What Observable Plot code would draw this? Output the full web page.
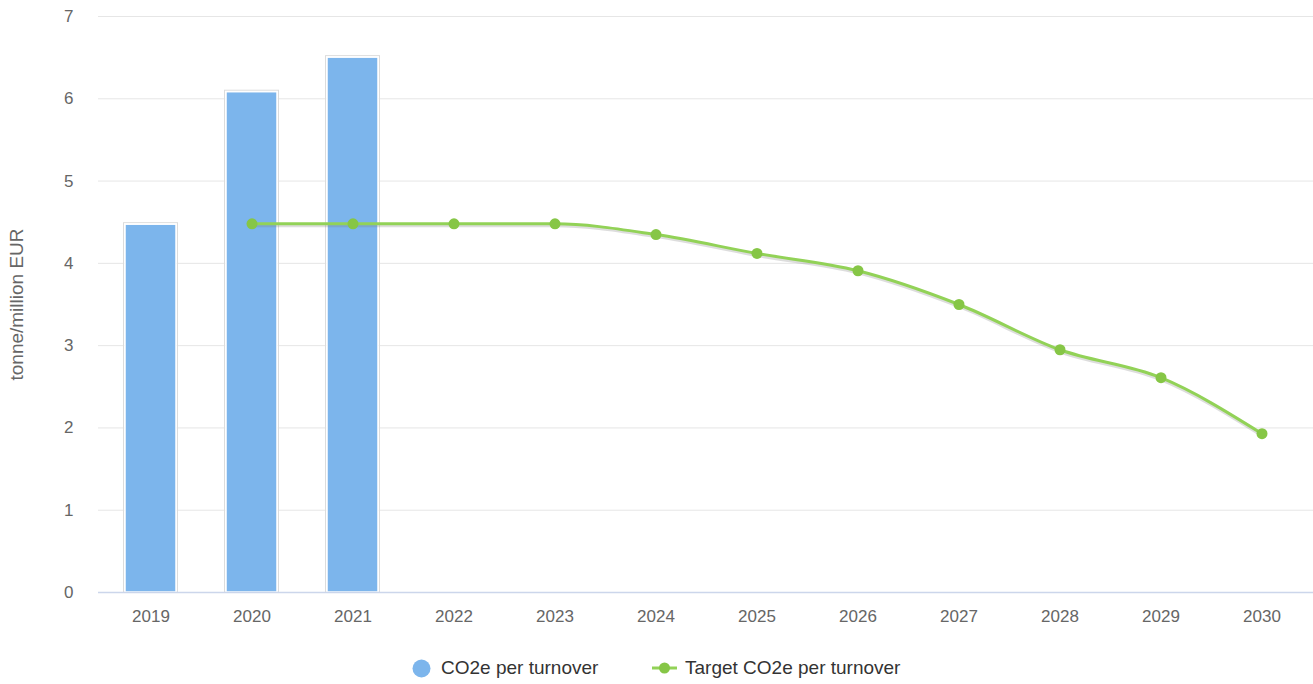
<!DOCTYPE html>
<html>
<head>
<meta charset="utf-8">
<script src="https://cdn.jsdelivr.net/npm/d3@7"></script>
<script src="https://cdn.jsdelivr.net/npm/@observablehq/plot@0.6"></script>
<style>
  body { margin: 0; background: #fff; font-family: "Liberation Sans", Arial, sans-serif; }
  #chart svg { display: block; }
  #chart svg g[aria-label="x-axis tick label"] text,
  #chart svg g[aria-label="y-axis tick label"] text { font-size: 17px; fill: #666; }
  #chart svg g[aria-label="y-axis label"] text { font-size: 19px; fill: #666; }
  .legend { position: relative; height: 44px; margin-top: 6px; font-size: 19px; color: #333; }
  .item { position: absolute; top: 0; height: 44px; display: flex; align-items: center; }
</style>
</head>
<body>
<div id="chart"></div>
<div class="legend">
  <div class="item" style="left:412px"><svg width="19" height="19" style="margin-right:10px"><circle cx="9.5" cy="9.5" r="9" fill="#7cb5ec"/></svg><span>CO2e per turnover</span></div>
  <div class="item" style="left:652px"><svg width="25" height="20" style="margin-right:8px"><line x1="0" y1="10" x2="25" y2="10" stroke="#92d257" stroke-width="3"/><circle cx="12.5" cy="10" r="5.5" fill="#86c646"/></svg><span>Target CO2e per turnover</span></div>
</div>
<script>
const years = ["2019","2020","2021","2022","2023","2024","2025","2026","2027","2028","2029","2030"];
const actualYears = ["2019","2020","2021"];
const actualValues = [4.47, 6.08, 6.50];
const targetYears = ["2020","2021","2022","2023","2024","2025","2026","2027","2028","2029","2030"];
const targetValues = [4.48, 4.48, 4.48, 4.48, 4.35, 4.12, 3.91, 3.50, 2.95, 2.61, 1.93];
const yTicks = [0,1,2,3,4,5,6,7];

const actual = actualYears.map((y, i) => ({year: y, value: actualValues[i]}));
const target = targetYears.map((y, i) => ({year: y, value: targetValues[i]}));

const chart = Plot.plot({
  width: 1313,
  height: 640,
  marginLeft: 98,
  marginRight: 0,
  marginTop: 16,
  marginBottom: 48,
  style: {fontFamily: "'Liberation Sans', Arial, sans-serif", color: "#666"},
  x: {type: "band", domain: years, paddingInner: 0.5, paddingOuter: 0.25, align: 0.5},
  y: {domain: [0, 7]},
  marks: [
    Plot.gridY(yTicks, {stroke: "#e6e6e6", strokeOpacity: 1}),
    Plot.barY(actual, {x: "year", y: "value", fill: "none", stroke: "#dcdcdc", strokeWidth: 1, insetLeft: -1.5, insetRight: -1.5, insetTop: -1.5}),
    Plot.barY(actual, {x: "year", y: "value", fill: "#7cb5ec", stroke: "#ffffff", strokeWidth: 1.5}),
    Plot.ruleY([0], {stroke: "#ccd6eb", strokeWidth: 1.5}),
    Plot.line(target, {x: "year", y: "value", stroke: "#777", strokeOpacity: 0.25, strokeWidth: 4, dy: 1.5, curve: "monotone-x"}),
    Plot.line(target, {x: "year", y: "value", stroke: "#92d257", strokeWidth: 3, curve: "monotone-x"}),
    Plot.dot(target, {x: "year", y: "value", fill: "#86c646", r: 5.5}),
    Plot.axisX({tickSize: 0, tickPadding: 17, label: null}),
    Plot.axisY(yTicks, {tickSize: 0, tickPadding: 25, tickFormat: "d", label: "tonne/million EUR", labelAnchor: "center", labelArrow: "none", labelOffset: 89})
  ]
});
document.getElementById("chart").appendChild(chart);
</script>
</body>
</html>
